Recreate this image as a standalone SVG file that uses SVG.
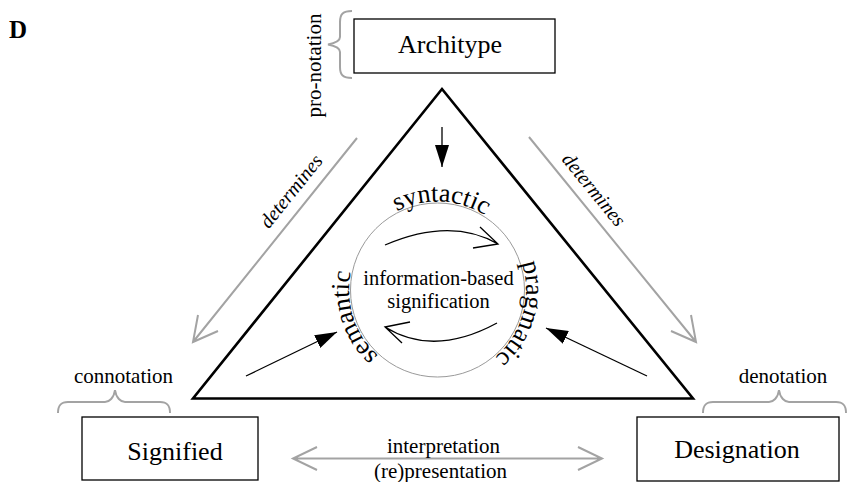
<svg xmlns="http://www.w3.org/2000/svg" width="847" height="482" viewBox="0 0 847 482" font-family="Liberation Serif, Times New Roman, serif">
  <style>
    .box { fill: #fff; stroke: #000; stroke-width: 1.3; }
    .brace { fill: none; stroke: #a3a3a3; stroke-width: 2; }
    .gray { fill: none; stroke: #a3a3a3; stroke-width: 2; }
    .thin { fill: none; stroke: #000; stroke-width: 1.3; }
    .head { fill: #000; stroke: none; }
  </style>
  <defs>
    <path id="ring" d="M437.5,378.5 A88.5,88.5 0 1 1 437.5,201.5 A88.5,88.5 0 1 1 437.5,378.5"/>
    <marker id="solid" markerUnits="userSpaceOnUse" markerWidth="22" markerHeight="14" refX="22" refY="7" orient="auto">
      <path class="head" d="M0,0 L22,7 L0,14 z"/>
    </marker>
  </defs>

  <text x="9" y="38" font-family="Liberation Serif, serif" font-size="25" font-weight="bold">D</text>

  <!-- central triangle -->
  <g id="triangle">
    <polygon points="442,89 193,398.5 693,398.5" fill="none" stroke="#000" stroke-width="2.6" stroke-linejoin="miter"/>
  </g>

  <!-- circle of signification -->
  <g id="signification" font-family="Liberation Serif, serif" text-anchor="middle">
    <circle cx="437.5" cy="290" r="87" fill="none" stroke="#9a9a9a" stroke-width="1"/>
    <text font-size="26"><textPath href="#ring" startOffset="20%">semantic</textPath></text>
    <text font-size="26"><textPath href="#ring" startOffset="50.7%">syntactic</textPath></text>
    <text font-size="26"><textPath href="#ring" startOffset="79.4%">pragmatic</textPath></text>
    <text x="438.5" y="285" font-size="20.5">information-based</text>
    <text x="438.5" y="308" font-size="20.5">signification</text>
  </g>

  <g id="architype" font-family="Liberation Serif, serif" text-anchor="middle">
    <rect class="box" x="354" y="19" width="201" height="54"/>
    <text x="450" y="53" font-size="26">Architype</text>
    <path class="brace" d="M352,11 C343,11 340,14 340,22 L340,37 C340,41 336,43 328,44.5 C336,46 340,48 340,52 L340,67 C340,75 343,78 352,78"/>
    <text font-size="21" transform="translate(320.5,65.5) rotate(-90)">pro-notation</text>
  </g>

  <g id="signified" font-family="Liberation Serif, serif" text-anchor="middle">
    <rect class="box" x="82" y="417" width="176" height="63"/>
    <text x="175" y="460" font-size="26">Signified</text>
    <path class="brace" d="M58,413 C58,405 61,402 68,402 L105,402 C109,402 114,398 115,390 C116,398 121,402 125,402 L160,402 C167,402 170,405 170,413"/>
    <text x="123.5" y="383" font-size="21">connotation</text>
  </g>

  <g id="designation" font-family="Liberation Serif, serif" text-anchor="middle">
    <rect class="box" x="637" y="417" width="202" height="64"/>
    <text x="737" y="458" font-size="26">Designation</text>
    <path class="brace" d="M703,413 C703,405 706,402 713,402 L769,402 C773,402 778,398 779,390 C780,398 785,402 789,402 L836,402 C843,402 846,405 846,413"/>
    <text x="783" y="383" font-size="21">denotation</text>
  </g>

  <g id="connectors" font-family="Liberation Serif, serif" text-anchor="middle">
    <!-- determines: architype to the two lower corners -->
    <path class="gray" d="M357,138 L193,342 M198,315 L193,342 L218,331"/>
    <text font-size="20" font-style="italic" transform="translate(291.5,191.5) rotate(-51.2)" y="6">determines</text>
    <path class="gray" d="M529,137 L696,342 M691,315 L696,342 L671,331"/>
    <text font-size="20" font-style="italic" transform="translate(593.5,190) rotate(50.8)" y="6">determines</text>

    <!-- interpretation / (re)presentation -->
    <path class="gray" d="M293,458.5 L602,458.5 M317,447 L293,458.5 L317,470 M578,447 L602,458.5 L578,470"/>
    <text x="443.5" y="453" font-size="21">interpretation</text>
    <text x="440.5" y="478" font-size="21">(re)presentation</text>

    <!-- inward arrows towards the circle -->
    <path class="thin" d="M442,127 L442,167" marker-end="url(#solid)"/>
    <path class="thin" d="M246,376 L337,332" marker-end="url(#solid)"/>
    <path class="thin" d="M647,376 L546,328" marker-end="url(#solid)"/>

    <!-- cycle inside the circle -->
    <path class="thin" d="M385,245 C420,230 460,222 498,244 M480,227 L498,244 L473,248"/>
    <path class="thin" d="M497,323 C462,342 422,350 385,327 M410,322 L385,327 L402,343"/>
  </g>
</svg>
